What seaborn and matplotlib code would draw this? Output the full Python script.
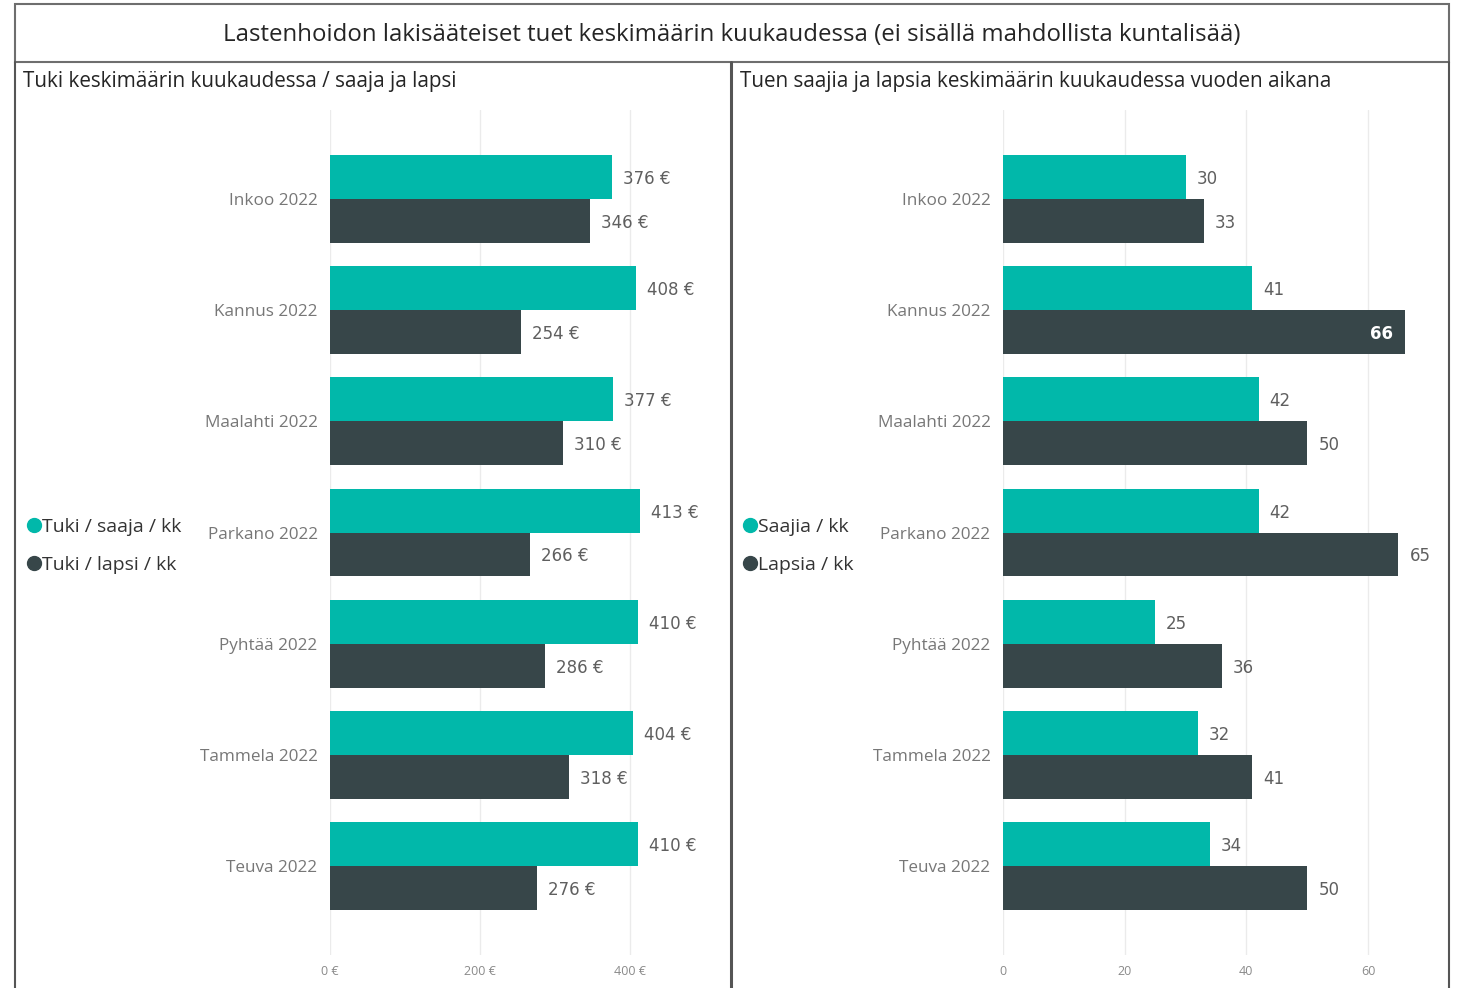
import numpy as np
import pandas as pd
import matplotlib.pyplot as plt
import seaborn as sns
from matplotlib.lines import Line2D
from matplotlib.patches import Rectangle

# Data

kunnat = ["Inkoo 2022", "Kannus 2022", "Maalahti 2022", "Parkano 2022",
          "Pyhtää 2022", "Tammela 2022", "Teuva 2022"]
tuki_saaja = [376, 408, 377, 413, 410, 404, 410]
tuki_lapsi = [346, 254, 310, 266, 286, 318, 276]
saajia = [30, 41, 42, 42, 25, 32, 34]
lapsia = [33, 66, 50, 65, 36, 41, 50]

sarjat_vasen = ["Tuki / saaja / kk", "Tuki / lapsi / kk"]
sarjat_oikea = ["Saajia / kk", "Lapsia / kk"]

otsikko = ("Lastenhoidon lakisääteiset tuet keskimäärin kuukaudessa "
           "(ei sisällä mahdollista kuntalisää)")
ala_otsikot = ["Tuki keskimäärin kuukaudessa / saaja ja lapsi",
               "Tuen saajia ja lapsia keskimäärin kuukaudessa vuoden aikana"]

TEAL = "#01B8AA"
DARK = "#374649"

sns.set_style("white")
plt.rcParams['font.family'] = ['Open Sans', 'DejaVu Sans']

W, H = 1458, 988


def fx(x):
    return x / W


def fy(y):
    return 1 - y / H


def long_df(a, b, names):
    '''Builds a long dataframe for seaborn hue bars.'''
    return pd.DataFrame({
        'kunta': kunnat * 2,
        'arvo': list(a) + list(b),
        'sarja': [names[0]] * len(a) + [names[1]] * len(b),
    })


def bar_panel(ax, df, xmax, ticks, fmt, names):
    '''Draws one horizontal grouped bar panel with value labels.'''
    sns.barplot(data=df, y='kunta', x='arvo', hue='sarja', orient='h',
                hue_order=names, palette=[TEAL, DARK], saturation=1,
                width=0.79, ax=ax, legend=False, linewidth=0)
    ax.set_xlim(0, xmax)
    ax.set_ylim(6.8, -0.8)
    ax.set_xticks(ticks)
    ax.set_xticklabels([fmt(t) for t in ticks], fontsize=9, color='#8a8a8a')
    ax.tick_params(axis='x', length=0, pad=7)
    ax.tick_params(axis='y', length=0, pad=9, labelsize=12.3,
                   labelcolor='#777777')
    ax.set_xlabel('')
    ax.set_ylabel('')
    ax.xaxis.grid(True, color='#EBEBEB', lw=1)
    ax.set_axisbelow(True)
    for s in ax.spines.values():
        s.set_visible(False)
    for cont in ax.containers:
        for patch in cont:
            v = patch.get_width()
            yc = patch.get_y() + patch.get_height() / 2
            if v > xmax - 6:
                ax.annotate(fmt(v), (v, yc), xytext=(-8, 0),
                            textcoords='offset points', ha='right',
                            va='center_baseline', fontsize=12,
                            color='white', fontweight='bold',
                            family='DejaVu Sans')
            else:
                ax.annotate(fmt(v), (v, yc), xytext=(8, 0),
                            textcoords='offset points', ha='left',
                            va='center_baseline', fontsize=12,
                            color='#5f5f5f', family='DejaVu Sans')


fig = plt.figure(figsize=(14.58, 9.88), dpi=100)

ax1 = fig.add_axes([fx(330), fy(955), fx(720 - 330), (955 - 110) / H])
ax2 = fig.add_axes([fx(1003), fy(955), fx(1438 - 1003), (955 - 110) / H])

bar_panel(ax1, long_df(tuki_saaja, tuki_lapsi, sarjat_vasen), 520,
          [0, 200, 400], lambda v: f"{v:.0f} €", sarjat_vasen)
bar_panel(ax2, long_df(saajia, lapsia, sarjat_oikea), 71.5,
          [0, 20, 40, 60], lambda v: f"{v:.0f}", sarjat_oikea)

# legends
for names, x0 in [(sarjat_vasen, 18), (sarjat_oikea, 734)]:
    handles = [Line2D([], [], marker='o', ls='', color=c, markersize=10)
               for c in [TEAL, DARK]]
    fig.legend(handles, names, loc='center left',
               bbox_to_anchor=(fx(x0), fy(546)), frameon=False,
               handlelength=0.8, handletextpad=0.05, labelspacing=1.0,
               fontsize=14, labelcolor='#333333', borderaxespad=0)

# title and subtitles
fig.text(fx(732), fy(32), otsikko, ha='center', va='center_baseline',
         fontsize=17.3, color='#252525')
fig.text(fx(23), fy(79), ala_otsikot[0], ha='left', va='center_baseline',
         fontsize=14.9, color='#252525')
fig.text(fx(740), fy(79), ala_otsikot[1], ha='left', va='center_baseline',
         fontsize=14.9, color='#252525')

# frame lines
fig.add_artist(Rectangle((fx(15), fy(62)), fx(1449 - 15), (62 - 4) / H,
                         transform=fig.transFigure, fill=False,
                         ec='#6e6e6e', lw=1.5))
for xx, lw in [(15, 1.5), (731, 2.2), (1449, 1.5)]:
    fig.add_artist(Line2D([fx(xx), fx(xx)], [fy(62), 0],
                          transform=fig.transFigure, color='#555555', lw=lw))

plt.savefig("out.png", dpi=100)
